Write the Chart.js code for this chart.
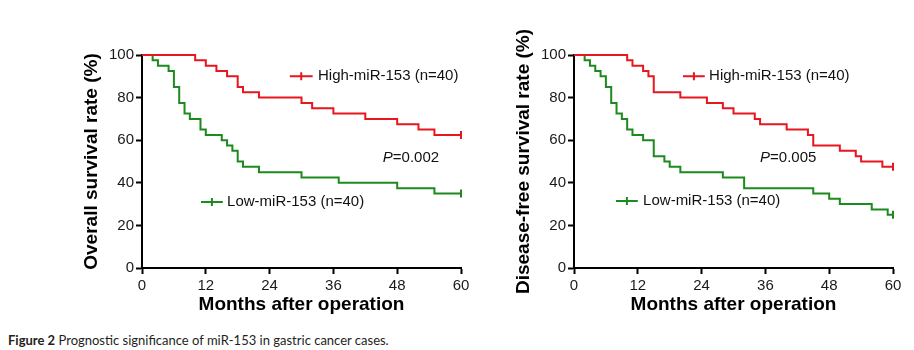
<!DOCTYPE html>
<html>
<head>
<meta charset="utf-8">
<script src="https://cdn.jsdelivr.net/npm/chart.js@4.4.1/dist/chart.umd.min.js"></script>
<style>
  html, body { margin: 0; padding: 0; background: #fff; }
  body { width: 914px; height: 350px; position: relative; overflow: hidden; }
  canvas { position: absolute; top: 0; }
  #osChart { left: 0; }
  #dfsChart { left: 434px; }
  .caption {
    position: absolute; left: 8px; top: 332px;
    font-family: Lato, "Open Sans", sans-serif; font-size: 13px; line-height: 16px;
    color: #231f20; white-space: nowrap;
  }
</style>
</head>
<body>
<canvas id="osChart" width="475" height="322"></canvas>
<canvas id="dfsChart" width="480" height="322"></canvas>
<div class="caption"><b>Figure 2</b> Prognostic significance of miR-153 in gastric cancer cases.</div>

<script>
// tick labels
const monthTicks = [0, 12, 24, 36, 48, 60];
const rateTicks = [0, 20, 40, 60, 80, 100];

// overall survival (left panel)
const osHighMonths = [0, 10, 12, 14, 16, 18, 19, 22, 30, 32, 36, 42, 48, 52, 55, 60];
const osHighRate   = [100, 97.5, 95, 92.5, 90, 85, 82.5, 80, 77.5, 75, 72.5, 70, 67.5, 65, 62.5, 62.5];
const osLowMonths  = [0, 2, 3, 5, 6, 7, 8, 9, 11, 12, 15, 16, 17, 18, 19, 22, 30, 37, 48, 55, 60];
const osLowRate    = [100, 97.5, 95, 92.5, 85, 77.5, 72.5, 70, 65, 62.5, 60, 57.5, 55, 50, 47.5, 45, 42.5, 40, 37.5, 35, 35];

// disease-free survival (right panel)
const dfsHighMonths = [0, 10, 11, 13, 14, 15, 20, 25, 28, 30, 34, 35, 40, 44, 45, 50, 53, 54, 58, 60];
const dfsHighRate   = [100, 97.5, 95, 92.5, 90, 82.5, 80, 77.5, 75, 72.5, 70, 67.5, 65, 62.5, 57.5, 55, 52.5, 50, 47.5, 47.5];
const dfsLowMonths  = [0, 2, 3, 4, 5, 6, 7, 8, 9, 10, 11, 13, 15, 17, 18, 20, 28, 32, 45, 48, 50, 56, 59, 60];
const dfsLowRate    = [100, 97.5, 95, 92.5, 90, 85, 77.5, 72.5, 70, 65, 62.5, 60, 52.5, 50, 47.5, 45, 42.5, 37.5, 35, 32.5, 30, 27.5, 25, 25];

const groupLabels = ["High-miR-153 (n=40)", "Low-miR-153 (n=40)"];
const RED = "#e8161f";
const GREEN = "#1c8a1c";
const FONT = "Arial, 'Liberation Sans', Helvetica, sans-serif";

function series(label, months, rates, color) {
  return {
    label,
    data: months.map((m, i) => ({ x: m, y: rates[i] })),
    stepped: true,
    borderColor: color,
    borderWidth: 2,
    fill: false,
    clip: 8,
    pointStyle: "line",
    rotation: 90,
    pointRadius: months.map((m, i) => (i === months.length - 1 ? 4 : 0)),
    pointBorderColor: color,
    pointBorderWidth: 2,
  };
}

// legend samples + p value, placed in data units
const notesPlugin = {
  id: "kmNotes",
  afterDraw(chart, args, opts) {
    const { ctx } = chart;
    const x = chart.scales.x, y = chart.scales.y;
    ctx.save();
    ctx.textBaseline = "middle";
    ctx.fillStyle = "#111";
    (opts.keys || []).forEach((k) => {
      const x1 = x.getPixelForValue(k.from), x2 = x.getPixelForValue(k.to);
      const py = y.getPixelForValue(k.at);
      ctx.strokeStyle = k.color;
      ctx.lineWidth = 2;
      ctx.beginPath();
      ctx.moveTo(x1, py); ctx.lineTo(x2, py);
      const mid = (x1 + x2) / 2;
      ctx.moveTo(mid, py - 4); ctx.lineTo(mid, py + 4);
      ctx.stroke();
      ctx.font = "15px " + FONT;
      ctx.fillText(k.text, x.getPixelForValue(k.textAt), py);
    });
    if (opts.p) {
      const px = x.getPixelForValue(opts.p.x), py = y.getPixelForValue(opts.p.y);
      ctx.font = "italic 15px " + FONT;
      ctx.fillText("P", px, py);
      const w = ctx.measureText("P").width;
      ctx.font = "15px " + FONT;
      ctx.fillText("=" + opts.p.value, px + w, py);
    }
    ctx.restore();
  },
};

function survivalChart(id, yTitle, datasets, notes, padLeft, padRight) {
  const tickFont = { family: FONT, size: 15 };
  const titleFont = { family: FONT, size: 19, weight: "bold" };
  const grid = { drawOnChartArea: false, tickLength: 6, tickWidth: 2, tickColor: "#000" };
  return new Chart(document.getElementById(id), {
    type: "line",
    data: { datasets },
    plugins: [notesPlugin],
    options: {
      responsive: false,
      animation: false,
      devicePixelRatio: 1,
      layout: { padding: { left: padLeft, right: padRight, top: 55, bottom: 6 } },
      scales: {
        x: {
          type: "linear", min: 0, max: 60,
          afterBuildTicks: (s) => { s.ticks = monthTicks.map((v) => ({ value: v })); },
          afterFit: (s) => { s.height = 48; },
          ticks: { font: tickFont, color: "#1a1a1a", padding: 3, maxRotation: 0, autoSkip: false },
          grid,
          border: { color: "#000", width: 2 },
          title: { display: true, text: "Months after operation", font: titleFont, color: "#000", padding: 0 },
        },
        y: {
          min: 0, max: 100,
          afterBuildTicks: (s) => { s.ticks = rateTicks.map((v) => ({ value: v })); },
          afterFit: (s) => { s.width = 62; },
          ticks: { font: tickFont, color: "#1a1a1a", padding: 2 },
          grid,
          border: { color: "#000", width: 2 },
          title: { display: true, text: yTitle, font: titleFont, color: "#000", padding: 0 },
        },
      },
      plugins: { legend: { display: false }, tooltip: { enabled: false }, kmNotes: notes },
    },
  });
}

survivalChart("osChart", "Overall survival rate (%)", [
  series(groupLabels[0], osHighMonths, osHighRate, RED),
  series(groupLabels[1], osLowMonths, osLowRate, GREEN),
], {
  keys: [
    { text: groupLabels[0], color: RED, from: 27.8, to: 32.1, textAt: 33.1, at: 90 },
    { text: groupLabels[1], color: GREEN, from: 11.1, to: 15.2, textAt: 16.0, at: 31 },
  ],
  p: { x: 45.3, y: 51.6, value: "0.002" },
}, 80, 14);

survivalChart("dfsChart", "Disease-free survival rate (%)", [
  series(groupLabels[0], dfsHighMonths, dfsHighRate, RED),
  series(groupLabels[1], dfsLowMonths, dfsLowRate, GREEN),
], {
  keys: [
    { text: groupLabels[0], color: RED, from: 20.5, to: 24.6, textAt: 25.4, at: 90 },
    { text: groupLabels[1], color: GREEN, from: 7.9, to: 12.0, textAt: 13.0, at: 31.5 },
  ],
  p: { x: 35.0, y: 51.6, value: "0.005" },
}, 78, 21);
</script>
</body>
</html>
